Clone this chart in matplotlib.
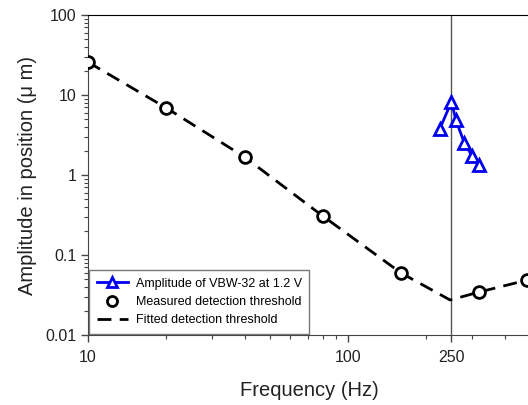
import matplotlib
matplotlib.use("Agg")
import matplotlib.pyplot as plt
from matplotlib.ticker import LogLocator, NullFormatter, FixedLocator, FixedFormatter

plt.rcParams['font.family'] = ['Liberation Sans', 'DejaVu Sans']

# VBW-32 amplitude at 1.2 V
vbw_freq = [225, 250, 260, 280, 300, 320]
vbw_amp = [3.73, 8.25, 4.87, 2.53, 1.73, 1.33]

# measured detection threshold
meas_freq = [10, 20, 40, 80, 160, 320, 490]
meas_amp = [25.8, 6.9, 1.68, 0.307, 0.0596, 0.0345, 0.0487]

# fitted detection threshold
fit_freq = [10, 20, 40, 80, 160, 247, 320, 490]
fit_amp = [25.8, 6.9, 1.68, 0.307, 0.0596, 0.0274, 0.0345, 0.0487]

xtick_vals = [10, 100, 250]
xtick_labels = ["10", "100", "250"]
ytick_vals = [0.01, 0.1, 1, 10, 100]
ytick_labels = ["0.01", "0.1", "1", "10", "100"]

fig = plt.figure(figsize=(5.28, 4.05), dpi=100)
ax = fig.add_axes([0.1667, 0.1728, 0.8366, 0.790])

ax.axvline(250, color="#555555", lw=1, zorder=1)

ax.plot(fit_freq, fit_amp, color="black", lw=2, ls=(0, (5, 3)),
        label="Fitted detection threshold", zorder=2)
ax.plot(meas_freq, meas_amp, ls="none", marker="o", ms=8.5, mfc="white",
        mec="black", mew=2, label="Measured detection threshold", zorder=3)
ax.plot(vbw_freq, vbw_amp, color="#0000ee", lw=2, marker="^", ms=9,
        mfc="white", mec="#0000ee", mew=2,
        label="Amplitude of VBW-32 at 1.2 V", zorder=4)

ax.set_xscale("log")
ax.set_yscale("log")
ax.set_xlim(10, 500)
ax.set_ylim(0.01, 100)

ax.xaxis.set_major_locator(FixedLocator(xtick_vals))
ax.xaxis.set_major_formatter(FixedFormatter(xtick_labels))
ax.xaxis.set_minor_locator(LogLocator(base=10, subs=range(2, 10)))
ax.xaxis.set_minor_formatter(NullFormatter())
ax.yaxis.set_major_locator(FixedLocator(ytick_vals))
ax.yaxis.set_major_formatter(FixedFormatter(ytick_labels))
ax.yaxis.set_minor_locator(LogLocator(base=10, subs=range(2, 10)))
ax.yaxis.set_minor_formatter(NullFormatter())

ax.tick_params(which="major", direction="out", length=5, width=1,
               color="#444444", labelsize=11.5, labelcolor="#222222")
ax.tick_params(axis="x", which="major", pad=6)
ax.tick_params(which="minor", direction="out", length=3, width=0.8,
               color="#444444")
for s in ["left", "bottom"]:
    ax.spines[s].set_color("#444444")
ax.spines["top"].set_color("black")
ax.spines["right"].set_visible(False)

ax.set_xlabel("Frequency (Hz)", fontsize=14.5, color="#222222", labelpad=11)
ax.set_ylabel("Amplitude in position (\u03bc m)", fontsize=14.5,
              color="#222222", labelpad=6)

h, l = ax.get_legend_handles_labels()
leg = ax.legend(h[::-1], l[::-1], loc="lower left", fontsize=9,
                frameon=True, fancybox=False, edgecolor="#555555",
                borderaxespad=0.1, handlelength=2.5, handletextpad=0.6,
                borderpad=0.6, labelspacing=0.5, markerscale=0.85)
leg.get_frame().set_linewidth(1)

fig.savefig("out.png", dpi=100)
